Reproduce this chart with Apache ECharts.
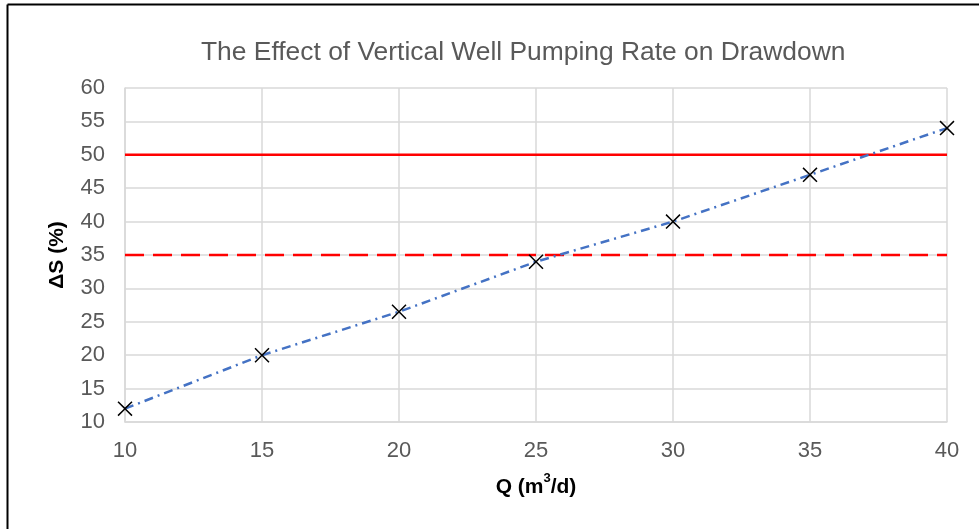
<!DOCTYPE html>
<html><head><meta charset="utf-8">
<script src="https://cdn.jsdelivr.net/npm/echarts@6/dist/echarts.min.js"></script>
<style>html,body{margin:0;padding:0;background:#fff}#c{width:979px;height:529px}</style>
</head><body><div id="c"></div>
<script>
const pumpingRates = [10, 15, 20, 25, 30, 35, 40];
const drawdown = [12, 20, 26.5, 34, 40, 47, 54];
const limitSolid = 50;
const limitDashed = 35;
const xRange = [10, 40];
const yRange = [10, 60];

const chart = echarts.init(document.getElementById('c'));
const xMark = 'path://M0,0.7L0.7,0L5,4.3L9.3,0L10,0.7L5.7,5L10,9.3L9.3,10L5,5.7L0.7,10L0,9.3L4.3,5Z';
const nameFont = {fontFamily: 'Liberation Sans', fontWeight: 'bold', color: '#000'};
chart.setOption({
  animation: false,
  backgroundColor: '#fff',
  title: {
    text: 'The Effect of Vertical Well Pumping Rate on Drawdown',
    left: 196, top: 35,
    textStyle: {fontFamily: 'Liberation Sans', fontSize: 26.4, fontWeight: 'normal', color: '#595959'}
  },
  grid: {left: 125, right: 32, top: 88, bottom: 107},
  xAxis: {
    type: 'value', min: xRange[0], max: xRange[1], interval: 5,
    name: '{b|Q (m}{sup|3}{b|/d)}', nameLocation: 'middle', nameGap: 50,
    nameTextStyle: Object.assign({fontSize: 21, rich: {
      b: Object.assign({fontSize: 21, lineHeight: 26, verticalAlign: 'bottom'}, nameFont),
      sup: Object.assign({fontSize: 13, lineHeight: 14, verticalAlign: 'top'}, nameFont)
    }}, nameFont),
    axisLine: {show: true, lineStyle: {color: '#d9d9d9', width: 1.5}},
    axisTick: {show: false},
    axisLabel: {fontFamily: 'Liberation Sans', fontSize: 22, color: '#595959', margin: 18},
    splitLine: {show: true, lineStyle: {color: '#d9d9d9', width: 1.5}}
  },
  yAxis: {
    type: 'value', min: yRange[0], max: yRange[1], interval: 5,
    name: 'ΔS (%)', nameLocation: 'middle', nameGap: 57,
    nameTextStyle: Object.assign({fontSize: 21}, nameFont),
    axisLine: {show: true, lineStyle: {color: '#d9d9d9', width: 1.5}},
    axisTick: {show: false},
    axisLabel: {fontFamily: 'Liberation Sans', fontSize: 22, color: '#595959', margin: 20},
    splitLine: {show: true, lineStyle: {color: '#d9d9d9', width: 1.5}}
  },
  series: [
    {
      type: 'line', data: xRange.map(x => [x, limitSolid]), symbol: 'none', silent: true,
      lineStyle: {color: '#ff0000', width: 2.5}
    },
    {
      type: 'line', data: xRange.map(x => [x, limitDashed]), symbol: 'none', silent: true,
      lineStyle: {color: '#ff0000', width: 2.5, type: [19, 9]}
    },
    {
      type: 'line', data: pumpingRates.map((x, i) => [x, drawdown[i]]),
      symbol: xMark, symbolSize: 15,
      itemStyle: {color: '#000'},
      lineStyle: {color: '#4472c4', width: 2.5, type: [9, 5, 2, 5]}
    }
  ],
  graphic: [
    {type: 'line', shape: {x1: 7.5, y1: 4.5, x2: 979, y2: 4.5}, style: {stroke: '#000', lineWidth: 2}},
    {type: 'line', shape: {x1: 7.5, y1: 4.5, x2: 7.5, y2: 529}, style: {stroke: '#000', lineWidth: 2}}
  ]
});
</script></body></html>
